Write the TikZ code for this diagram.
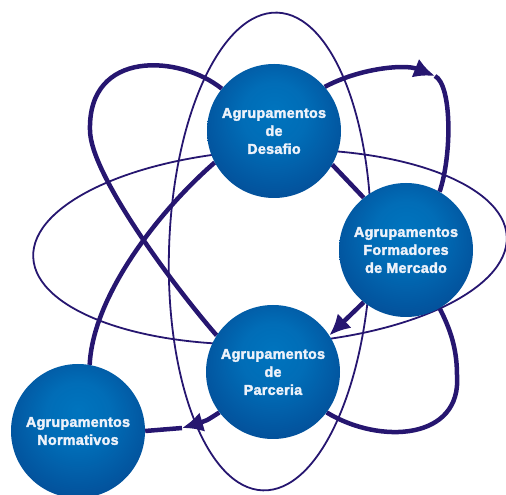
\documentclass[tikz,border=0pt]{standalone}
\usepackage{fontspec}
\setmainfont{Liberation Sans}
\newfontfamily\orbfont{Liberation Sans}[BoldFeatures={FakeBold=2.5}, LetterSpace=2.0]
\usetikzlibrary{arrows.meta,backgrounds}
\definecolor{orbit}{RGB}{38,22,112}
\definecolor{orblight}{RGB}{0,116,190}
\definecolor{orbdark}{RGB}{6,44,118}
\definecolor{orbtext}{RGB}{238,242,250}
\pgfdeclareradialshading{orb}{\pgfpoint{0bp}{8bp}}{color(0bp)=(orblight); color(12bp)=(orblight!90!orbdark); color(50bp)=(orbdark)}
\tikzset{
  grupo/.style={circle, minimum size=134pt, inner sep=0pt, shading=orb, text=orbtext,
    align=center, font=\orbfont\fontsize{14.3}{18}\selectfont\bfseries},
  fina/.style={draw=orbit, line width=1.8pt},
  grossa/.style={draw=orbit, line width=4.5pt},
  ponta/.style={-{Latex[length=21pt,width=20pt]}},
}
\begin{document}
\begin{tikzpicture}[x=1pt,y=1pt]
\useasboundingbox (0,0) rectangle (506,495);

\node[grupo] (desafio) at (274,364) {Agrupamentos\\de\\Desafio};
\node[grupo] (mercado) at (406,245) {Agrupamentos\\Formadores\\de Mercado};
\node[grupo] (parceria) at (273,123) {Agrupamentos\\de\\Parceria};
\node[grupo] (normativos) at (78,64) {Agrupamentos\\Normativos};
\coordinate (seta1) at (435,419);
\coordinate (seta2) at (182,67);

\begin{scope}[on background layer]
\draw[fina, rotate around={-1.7:(270,243.5)}] (270,243.5) ellipse [x radius=101, y radius=239];
\draw[fina, rotate around={2.5:(270,248)}] (270,248) ellipse [x radius=237, y radius=97];

\draw[grossa] (desafio.141) .. controls (180,440) and (88,446) .. (90,365)
  .. controls (90,320) and (177,205) .. (parceria.147);
\draw[grossa] (parceria.-37) .. controls (380,50) and (462,55) .. (457,120)
  .. controls (457,150) and (448,170) .. (mercado.-60);
\draw[grossa] (mercado.129) -- (desafio.-30);
\draw[grossa] (normativos.80) .. controls (93,200) and (160,285) .. (desafio.208);
\draw[grossa, ponta] (desafio.41) .. controls (360,427) and (405,431) .. (seta1);
\draw[grossa] (seta1) .. controls (452,410) and (452,340) .. (mercado.60);
\draw[grossa, ponta] (mercado.231) -- (parceria.33);
\draw[grossa, ponta] (parceria.217) .. controls (206,74) .. (seta2);
\draw[grossa] (seta2) -- (normativos.0);
\end{scope}
\end{tikzpicture}
\end{document}
